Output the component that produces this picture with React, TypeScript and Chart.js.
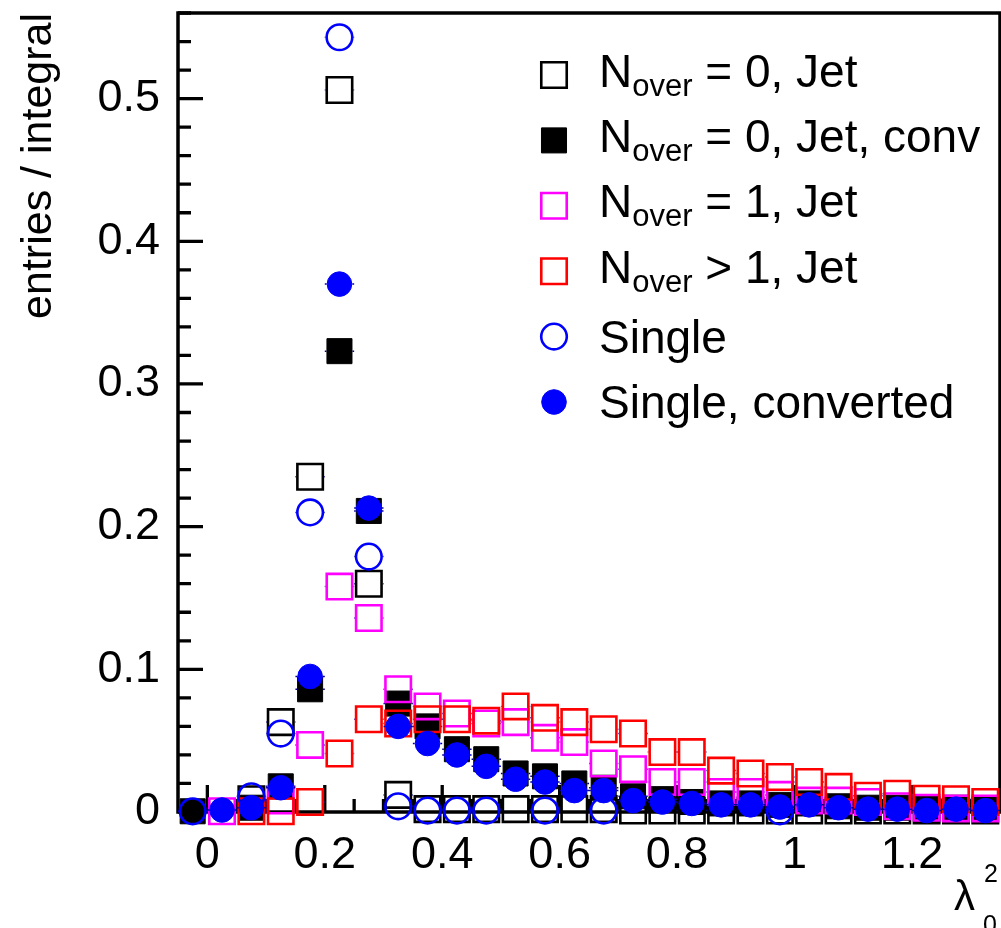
import React, { useEffect, useRef } from 'react';
import { Chart, registerables } from 'chart.js';

Chart.register(...registerables);

const FONT = '"Liberation Sans", Arial, Helvetica, sans-serif';

// λ0² bin centres (bins of width 0.05)
const BIN_CENTERS = [
  -0.025, 0.025, 0.075, 0.125, 0.175, 0.225, 0.275, 0.325, 0.375, 0.425,
  0.475, 0.525, 0.575, 0.625, 0.675, 0.725, 0.775, 0.825, 0.875, 0.925,
  0.975, 1.025, 1.075, 1.125, 1.175, 1.225, 1.275, 1.325,
];
const BIN_WIDTH = 0.05;

// entries / integral per bin; null = empty bin (no marker)
const NOVER0_JET = [
  null, null, 0.009, 0.063, 0.235, 0.506, 0.160, 0.012, 0.002, 0.002,
  0.002, 0.002, 0.002, 0.002, 0.002, 0.001, 0.001, 0.001, 0.001, 0.001,
  0.001, 0.001, 0.001, 0.001, 0.001, 0.001, 0.001, 0.001,
];
const NOVER0_JET_CONV = [
  0.0005, null, 0.003, 0.018, 0.086, 0.323, 0.211, 0.076, 0.060, 0.044,
  0.037, 0.027, 0.025, 0.020, 0.017, 0.011, 0.009, 0.007, 0.006, 0.006,
  0.005, 0.006, 0.004, 0.003, 0.003, 0.002, 0.003, 0.002,
];
const NOVER1_JET = [
  null, 0.0005, null, 0.008, 0.047, 0.158, 0.136, 0.086, 0.074, 0.069,
  0.062, 0.063, 0.052, 0.049, 0.034, 0.030, 0.021, 0.021, 0.014, 0.014,
  0.012, 0.008, 0.008, 0.007, 0.004, 0.003, 0.0025, 0.0025,
];
const NOVERGT1_JET = [
  null, null, 0.0005, 0.0005, 0.007, 0.041, 0.065, 0.062, 0.065, 0.065,
  0.064, 0.074, 0.066, 0.063, 0.058, 0.055, 0.042, 0.042, 0.029, 0.027,
  0.0245, 0.021, 0.0176, 0.0114, 0.0128, 0.0093, 0.009, 0.007,
];
const SINGLE = [
  0.0005, null, 0.011, 0.055, 0.210, 0.543, 0.179, 0.004, 0.001, 0.001,
  0.001, null, 0.001, null, 0.001, null, null, null, null, null,
  0.0005, null, null, null, null, null, null, null,
];
const SINGLE_CONV = [
  null, 0.0014, 0.003, 0.017, 0.095, 0.370, 0.213, 0.060, 0.048, 0.040,
  0.032, 0.023, 0.021, 0.015, 0.015, 0.008, 0.007, 0.006, 0.005, 0.005,
  0.0035, 0.005, 0.003, 0.002, 0.002, 0.001, 0.002, 0.001,
];

// legend texts: main part, subscript, remainder
const LEGEND_MAIN = ['N', 'N', 'N', 'N', 'Single', 'Single, converted'];
const LEGEND_SUB = ['over', 'over', 'over', 'over', '', ''];
const LEGEND_REST = [' = 0, Jet', ' = 0, Jet, conv', ' = 1, Jet', ' > 1, Jet', '', ''];

const X_TICKS = [0, 0.2, 0.4, 0.6, 0.8, 1, 1.2];
const X_TICK_LABELS = ['0', '0.2', '0.4', '0.6', '0.8', '1', '1.2'];
const Y_TICKS = [0, 0.1, 0.2, 0.3, 0.4, 0.5];
const Y_TICK_LABELS = ['0', '0.1', '0.2', '0.3', '0.4', '0.5'];

const X_MIN = -0.05;
const X_MAX = 1.35;
const Y_MIN = 0;
const Y_MAX = 0.56;

const toPoints = (vals: (number | null)[]) =>
  BIN_CENTERS.map((x, i) => ({ x, y: vals[i] })).filter((p) => p.y !== null);

type MarkerStyle = {
  pointStyle: 'rect' | 'circle';
  pointRadius: number;
  pointBorderWidth: number;
  pointBorderColor: string;
  pointBackgroundColor: string;
};

const openSquare = (c: string): MarkerStyle => ({
  pointStyle: 'rect', pointRadius: 18, pointBorderWidth: 2.6,
  pointBorderColor: c, pointBackgroundColor: 'rgba(0,0,0,0)',
});
const fullSquare = (c: string): MarkerStyle => ({
  pointStyle: 'rect', pointRadius: 17.7, pointBorderWidth: 1,
  pointBorderColor: c, pointBackgroundColor: c,
});
const openCircle = (c: string): MarkerStyle => ({
  pointStyle: 'circle', pointRadius: 12.8, pointBorderWidth: 2.6,
  pointBorderColor: c, pointBackgroundColor: 'rgba(0,0,0,0)',
});
const fullCircle = (c: string): MarkerStyle => ({
  pointStyle: 'circle', pointRadius: 12.3, pointBorderWidth: 1,
  pointBorderColor: c, pointBackgroundColor: c,
});

// half extent of a marker, outline included
const markerHalf = (m: any) =>
  (m.pointStyle === 'rect' ? m.pointRadius * Math.SQRT1_2 : m.pointRadius) + m.pointBorderWidth / 2;

function drawMarker(ctx: CanvasRenderingContext2D, m: MarkerStyle, x: number, y: number) {
  ctx.save();
  ctx.beginPath();
  if (m.pointStyle === 'rect') {
    const h = m.pointRadius * Math.SQRT1_2;
    ctx.rect(x - h, y - h, 2 * h, 2 * h);
  } else {
    ctx.arc(x, y, m.pointRadius, 0, Math.PI * 2);
  }
  ctx.fillStyle = m.pointBackgroundColor;
  ctx.fill();
  ctx.lineWidth = m.pointBorderWidth;
  ctx.strokeStyle = m.pointBorderColor;
  ctx.stroke();
  ctx.restore();
}

// horizontal bin-width error bars, left open where the marker sits
const binBars = {
  id: 'binBars',
  beforeDatasetDraw(chart: any, args: any) {
    const { ctx } = chart;
    const xs = chart.scales.x;
    const ds = chart.data.datasets[args.index];
    const gap = markerHalf(ds);
    ctx.save();
    ctx.strokeStyle = '#000099';
    ctx.lineWidth = 1.5;
    args.meta.data.forEach((el: any, j: number) => {
      const xv = ds.data[j].x;
      const x0 = xs.getPixelForValue(xv - BIN_WIDTH / 2);
      const x1 = xs.getPixelForValue(xv + BIN_WIDTH / 2);
      ctx.beginPath();
      if (el.x - gap > x0) {
        ctx.moveTo(x0, el.y);
        ctx.lineTo(el.x - gap, el.y);
      }
      if (el.x + gap < x1) {
        ctx.moveTo(el.x + gap, el.y);
        ctx.lineTo(x1, el.y);
      }
      ctx.stroke();
    });
    ctx.restore();
  },
};

// frame plus inward-pointing ticks
const frameTicks = {
  id: 'frameTicks',
  beforeDatasetsDraw(chart: any) {
    const { ctx, chartArea: a } = chart;
    const xs = chart.scales.x;
    const ys = chart.scales.y;
    ctx.save();
    ctx.strokeStyle = '#000';
    ctx.lineWidth = 3.3;
    ctx.lineCap = 'butt';
    ctx.beginPath();
    for (let v = 0; v <= Y_MAX + 1e-9; v += 0.02) {
      const major = Math.abs(v / 0.1 - Math.round(v / 0.1)) < 1e-6;
      const y = ys.getPixelForValue(v);
      ctx.moveTo(a.left, y);
      ctx.lineTo(a.left + (major ? 25 : 13), y);
    }
    for (let v = 0; v <= X_MAX + 1e-9; v += 0.05) {
      const major = Math.abs(v / 0.2 - Math.round(v / 0.2)) < 1e-6;
      const x = xs.getPixelForValue(v);
      ctx.moveTo(x, a.bottom);
      ctx.lineTo(x, a.bottom - (major ? 27 : 13));
    }
    ctx.stroke();
    ctx.lineWidth = 3.5;
    ctx.strokeRect(a.left, a.top, a.right - a.left, a.bottom - a.top);
    ctx.restore();
  },
};

// legend box and x-axis title with sub/superscripts
const annotations = {
  id: 'annotations',
  afterDraw(chart: any) {
    const { ctx } = chart;
    ctx.save();
    ctx.fillStyle = '#000';
    ctx.textBaseline = 'alphabetic';
    ctx.textAlign = 'left';
    chart.data.datasets.forEach((ds: any, i: number) => {
      const cy = 75 + i * 65.4;
      drawMarker(ctx, ds as MarkerStyle, 554, cy);
      const hasSub = LEGEND_SUB[i] !== '';
      const base = cy + (hasSub ? 11.5 : 16);
      let x = 599;
      ctx.font = `46px ${FONT}`;
      ctx.fillText(LEGEND_MAIN[i], x, base);
      x += ctx.measureText(LEGEND_MAIN[i]).width;
      if (hasSub) {
        ctx.font = `31px ${FONT}`;
        ctx.fillText(LEGEND_SUB[i], x, base + 9);
        x += ctx.measureText(LEGEND_SUB[i]).width;
      }
      ctx.font = `46px ${FONT}`;
      ctx.fillText(LEGEND_REST[i], x, base);
    });
    ctx.font = `42px ${FONT}`;
    ctx.fillText('λ', 954, 910);
    ctx.font = `25px ${FONT}`;
    ctx.fillText('2', 984, 882);
    ctx.fillText('0', 983, 933);
    ctx.restore();
  },
};

const noPadding = (s: any) => {
  s.paddingTop = 0;
  s.paddingBottom = 0;
  s.paddingLeft = 0;
  s.paddingRight = 0;
};

export default function App() {
  const ref = useRef<HTMLCanvasElement | null>(null);

  useEffect(() => {
    if (!ref.current) return;
    const series = [
      { values: NOVER0_JET, style: openSquare('#000000') },
      { values: NOVER0_JET_CONV, style: fullSquare('#000000') },
      { values: NOVER1_JET, style: openSquare('#ff00ff') },
      { values: NOVERGT1_JET, style: openSquare('#ff0000') },
      { values: SINGLE, style: openCircle('#0000ff') },
      { values: SINGLE_CONV, style: fullCircle('#0000ff') },
    ];
    const chart = new Chart(ref.current, {
      type: 'scatter',
      data: {
        datasets: series.map((s, i) => ({
          label: LEGEND_MAIN[i] + LEGEND_SUB[i] + LEGEND_REST[i],
          data: toPoints(s.values),
          ...s.style,
          pointHoverRadius: s.style.pointRadius,
          showLine: false,
          clip: false,
          order: series.length - i,
        })),
      },
      options: {
        animation: false,
        responsive: true,
        maintainAspectRatio: false,
        devicePixelRatio: 1,
        events: [],
        layout: { autoPadding: false, padding: { left: 0, top: 13, right: 1, bottom: 0 } },
        plugins: { legend: { display: false }, tooltip: { enabled: false } },
        scales: {
          x: {
            type: 'linear',
            min: X_MIN,
            max: X_MAX,
            grid: { display: false, drawTicks: false },
            border: { display: false },
            afterBuildTicks: (s: any) => { s.ticks = X_TICKS.map((v) => ({ value: v })); },
            afterFit: (s: any) => { s.height = 116; noPadding(s); },
            ticks: {
              autoSkip: false,
              maxRotation: 0,
              padding: 17,
              color: '#000',
              font: { family: FONT, size: 45 },
              callback: (v: any) => X_TICK_LABELS[X_TICKS.indexOf(Number(v))] ?? '',
            },
          },
          y: {
            type: 'linear',
            min: Y_MIN,
            max: Y_MAX,
            grid: { display: false, drawTicks: false },
            border: { display: false },
            afterBuildTicks: (s: any) => { s.ticks = Y_TICKS.map((v) => ({ value: v })); },
            afterFit: (s: any) => { s.width = 178; noPadding(s); },
            title: {
              display: true,
              text: 'entries / integral',
              align: 'end',
              color: '#000',
              font: { family: FONT, size: 43 },
              padding: { top: 13, bottom: 0 },
            },
            ticks: {
              padding: 18,
              color: '#000',
              font: { family: FONT, size: 45 },
              callback: (v: any) => Y_TICK_LABELS[Y_TICKS.indexOf(Number(v))] ?? '',
            },
          },
        },
      },
      plugins: [frameTicks, binBars, annotations],
    } as any);
    return () => chart.destroy();
  }, []);

  return (
    <div style={{ position: 'absolute', left: 0, top: 0, width: 1001, height: 928, background: '#fff' }}>
      <canvas ref={ref} />
    </div>
  );
}
